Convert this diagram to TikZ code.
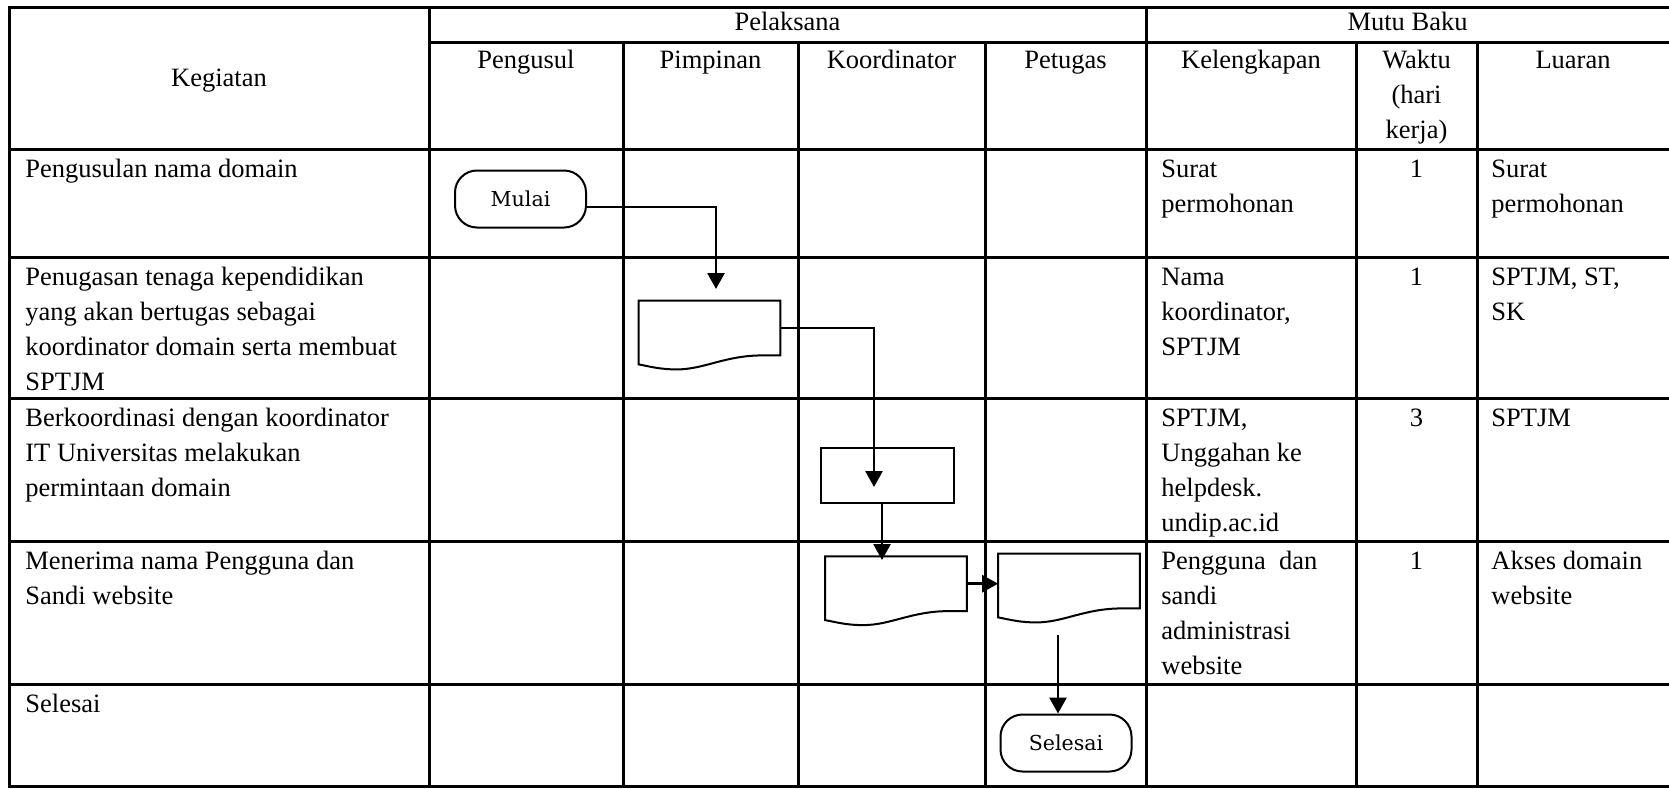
\documentclass[tikz,border=0pt]{standalone}
\usepackage{fontspec}
\setmainfont{Liberation Serif}
\newfontfamily\bentukfont{DejaVu Serif}
\usetikzlibrary{arrows.meta,calc,positioning}

% outline of a document symbol round node #1
\newcommand{\dokumen}[1]{%
  \draw[line width=1pt] (#1.south east) -- (#1.north east) -- (#1.north west)
    -- ($(#1.south west)+(0,9)$)
    .. controls ($(#1.south west)+(11,11)$) and ($(#1.south west)+(21,14)$) .. ($(#1.south west)+(38,14)$)
    .. controls ($(#1.south west)+(66,14)$) and ($(#1.south west)+(86,0)$) .. ($(#1.south west)+(124,0)$)
    -- cycle;}

\begin{document}
\begin{tikzpicture}[x=0.5pt,y=-0.5pt,
                    font=\fontsize{13.25}{17.5}\selectfont]
	  \tikzstyle{grid}=[line width=1.5pt]
	  \tikzstyle{isi}=[anchor=north west,inner sep=0pt,align=left]
	  \tikzstyle{tengah}=[anchor=north,inner sep=0pt,align=center]
	  \tikzstyle{terminal}=[draw,rounded corners=11pt,minimum width=65.5pt,minimum height=28.5pt,
	                        line width=1pt,font=\bentukfont\fontsize{10.3}{12}\selectfont]
	  \tikzstyle{proses}=[draw,minimum width=66.7pt,minimum height=27.5pt,line width=1pt]
	  \tikzstyle{dok}=[minimum width=70.5pt,minimum height=27pt,inner sep=0pt]
	  \tikzstyle{panah}=[-{Triangle[length=8pt,width=8.5pt]},line width=1.4pt]

	  \useasboundingbox (0,0) rectangle (1669,788);

	  % table
	  \draw[grid] (1669,7) -- (9.5,7) -- (9.5,786.5) -- (1669,786.5);
	  \draw[grid] (429,42.5) -- (1669,42.5);
	  \foreach \y in {149,257,398,541,684} \draw[grid] (9.5,\y) -- (1669,\y);
	  \foreach \x in {429,1146} \draw[grid] (\x,7) -- (\x,786.5);
	  \foreach \x in {623,798,985,1356,1477} \draw[grid] (\x,42.5) -- (\x,786.5);

	  % header
	  \node[tengah] (hPel)  at (787.5,5.5)  {\strut Pelaksana};
	  \node[tengah] (hMutu) at (1407.5,5.5) {\strut Mutu Baku};
	  \node[tengah] (hKeg)  at (219,61.5)   {\strut Kegiatan};
	  \node[tengah] (hPeng) at (526,43.5)   {\strut Pengusul};
	  \node[tengah] (hPimp) at (710.5,43.5) {\strut Pimpinan};
	  \node[tengah] (hKoor) at (891.5,43.5) {\strut Koordinator};
	  \node[tengah] (hPet)  at (1065.5,43.5) {\strut Petugas};
	  \node[tengah] (hKel)  at (1251,43.5)  {\strut Kelengkapan};
	  \node[tengah] (hWak)  at (1416.5,43.5) {\strut Waktu\\(hari\\kerja)};
	  \node[tengah] (hLua)  at (1573,43.5)  {\strut Luaran};

	  % rows
	  \node[isi] (k1) at (25,152.5) {\strut Pengusulan nama domain};
	  \node[isi] (l1) at (1161,152.5) {\strut Surat\\permohonan};
	  \node[tengah] (w1) at (1416.5,152.5) {\strut 1};
	  \node[isi] (o1) at (1491,152.5) {\strut Surat\\permohonan};

	  \node[isi] (k2) at (25,260.5) {\strut Penugasan tenaga kependidikan\\yang akan bertugas sebagai\\koordinator domain serta membuat\\SPTJM};
	  \node[isi] (l2) at (1161,260.5) {\strut Nama\\koordinator,\\SPTJM};
	  \node[tengah] (w2) at (1416.5,260.5) {\strut 1};
	  \node[isi] (o2) at (1491,260.5) {\strut SPTJM, ST,\\SK};

	  \node[isi] (k3) at (25,401.5) {\strut Berkoordinasi dengan koordinator\\IT Universitas melakukan\\permintaan domain};
	  \node[isi] (l3) at (1161,401.5) {\strut SPTJM,\\Unggahan ke\\helpdesk.\\undip.ac.id};
	  \node[tengah] (w3) at (1416.5,401.5) {\strut 3};
	  \node[isi] (o3) at (1491,401.5) {\strut SPTJM};

	  \node[isi] (k4) at (25,544.5) {\strut Menerima nama Pengguna dan\\Sandi website};
	  \node[isi] (l4) at (1161,544.5) {\strut Pengguna\ \ dan\\sandi\\administrasi\\website};
	  \node[tengah] (w4) at (1416.5,544.5) {\strut 1};
	  \node[isi] (o4) at (1491,544.5) {\strut Akses domain\\website};

	  \node[isi] (k5) at (25,687.5) {\strut Selesai};

	  % flow
	  \node[terminal] (A) at (520.5,199) {Mulai};
	  \node[dok]      (B) at (709.5,328) {};
	  \node[proses]   (C) at (887.3,475.5) {};
	  \node[dok]      (D) at (896,583.7) {};
	  \node[dok]      (E) at (1069,581) {};
	  \node[terminal] (F) at (1066,743) {Selesai};
	  \dokumen{B} \dokumen{D} \dokumen{E}

	  \coordinate (t1) at (716,289);
	  \coordinate (t2) at (874,487);
	  \coordinate (t3) at (882,560);
	  \coordinate (t5) at (1058,635);

	  \draw[panah] ([yshift=-4pt]A.east) -| (t1);
	  \draw[panah] (B.east) -| (t2);
	  \draw[panah] (t3 |- C.south) -- (t3);
	  \draw[panah] (D.east) -- (D.east -| E.west);
	  \draw[panah] (t5) -- (t5 |- F.north);
\end{tikzpicture}
\end{document}
